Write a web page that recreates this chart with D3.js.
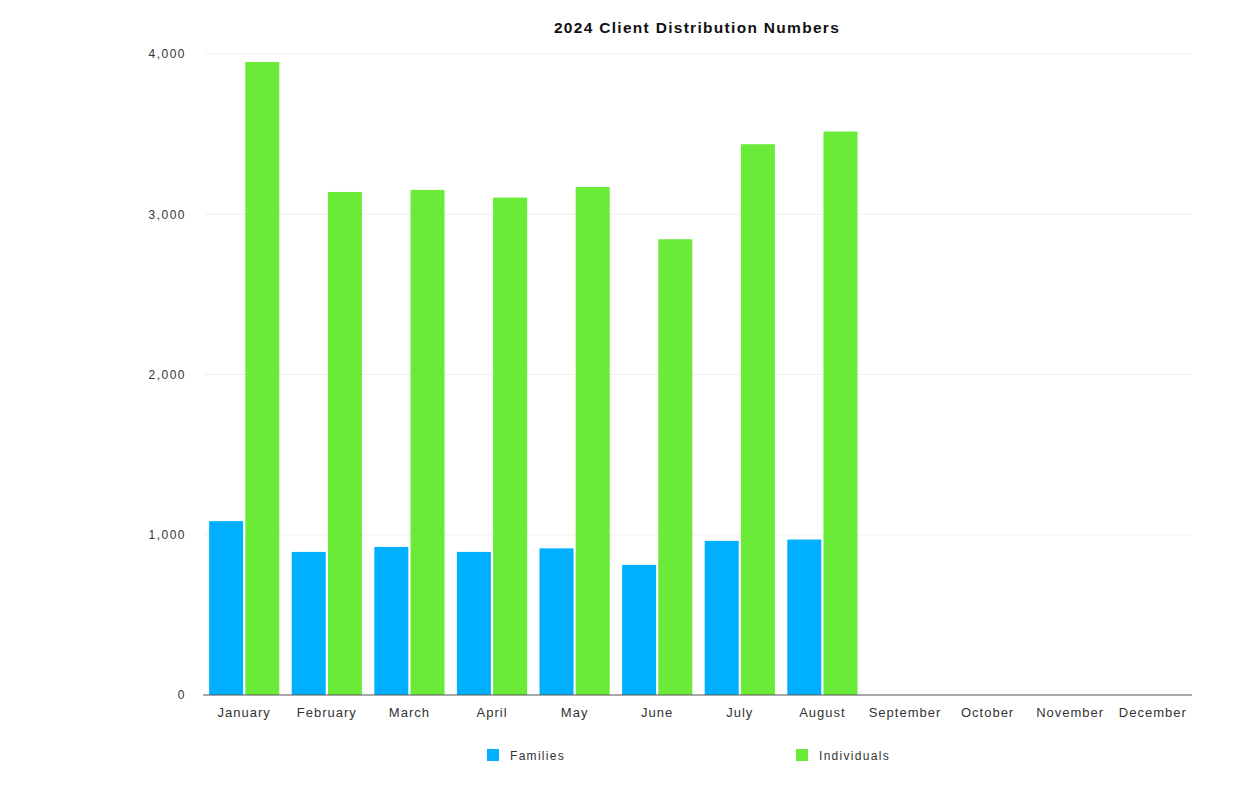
<!DOCTYPE html>
<html>
<head>
<meta charset="utf-8">
<script src="https://cdn.jsdelivr.net/npm/d3@7"></script>
<style>
  body { margin: 0; background: #fff; }
  svg { font-family: "Liberation Sans", Arial, Helvetica, sans-serif; }
</style>
</head>
<body>
<svg id="chart" width="1254" height="800"></svg>
<script>
const title = "2024 Client Distribution Numbers";
const months = ["January","February","March","April","May","June","July","August","September","October","November","December"];
const seriesNames = ["Families","Individuals"];
const families = [1085, 893, 924, 893, 915, 812, 962, 970, null, null, null, null];
const individuals = [3950, 3139, 3152, 3104, 3170, 2844, 3437, 3516, null, null, null, null];
const yTicks = [0, 1000, 2000, 3000, 4000];
const colors = ["#00b0ff", "#6aeb37"];

const svg = d3.select("#chart");
const mLeft = 205, mRight = 1192, mTop = 54, mBottom = 695;

const x = d3.scaleBand().domain(months).range([mLeft, mRight]).paddingInner(0.15).paddingOuter(0.05);
const xs = d3.scaleBand().domain(seriesNames).range([0, x.bandwidth()]).paddingInner(0.06);
const y = d3.scaleLinear().domain([0, 4000]).range([mBottom, mTop]);

// gridlines
svg.append("g").selectAll("line").data(yTicks.filter(d => d > 0)).join("line")
  .attr("x1", mLeft).attr("x2", mRight)
  .attr("y1", d => y(d)).attr("y2", d => y(d))
  .attr("stroke", "#efefef").attr("stroke-width", 1);

// y axis labels
const yAxis = d3.axisLeft(y).tickValues(yTicks).tickFormat(d3.format(",")).tickSize(0).tickPadding(19);
const yg = svg.append("g").attr("transform", `translate(${mLeft},0)`).call(yAxis);
yg.select(".domain").remove();
yg.selectAll("text").attr("font-size", 12).attr("fill", "#333").attr("letter-spacing", 1.5)
  .attr("font-family", "'Liberation Sans', Arial, sans-serif");

// bars
const data = months.map((m, i) => ({ m, vals: [families[i], individuals[i]] }));
const groups = svg.append("g").selectAll("g").data(data).join("g")
  .attr("transform", d => `translate(${x(d.m)},0)`);
groups.selectAll("rect").data(d => d.vals.map((v, j) => ({ v, s: seriesNames[j], j })).filter(e => e.v != null))
  .join("rect")
  .attr("x", e => xs(e.s))
  .attr("width", xs.bandwidth())
  .attr("y", e => y(e.v))
  .attr("height", e => y(0) - y(e.v))
  .attr("fill", e => colors[e.j]);

// x axis
const xAxis = d3.axisBottom(x).tickSize(0).tickPadding(13);
const xg = svg.append("g").attr("transform", `translate(0,${mBottom})`).call(xAxis);
xg.select(".domain").attr("stroke", "#555").attr("stroke-width", 1.2).attr("d", `M${mLeft - 2},0H${mRight}`);
xg.selectAll("text").attr("font-size", 13).attr("fill", "#333").attr("letter-spacing", 1)
  .attr("font-family", "'Liberation Sans', Arial, sans-serif");

// title
svg.append("text").attr("x", 697).attr("y", 33).attr("text-anchor", "middle")
  .attr("font-size", 15.5).attr("font-weight", "bold").attr("letter-spacing", 1.3)
  .attr("fill", "#111").text(title);

// legend
const legendX = [487, 796];
const lg = svg.append("g").selectAll("g").data(seriesNames).join("g")
  .attr("transform", (d, i) => `translate(${legendX[i]},749)`);
lg.append("rect").attr("width", 12).attr("height", 12).attr("fill", (d, i) => colors[i]);
lg.append("text").attr("x", 23).attr("y", 10.5).attr("font-size", 12).attr("letter-spacing", 1.3)
  .attr("fill", "#333").text(d => d);
</script>
</body>
</html>
